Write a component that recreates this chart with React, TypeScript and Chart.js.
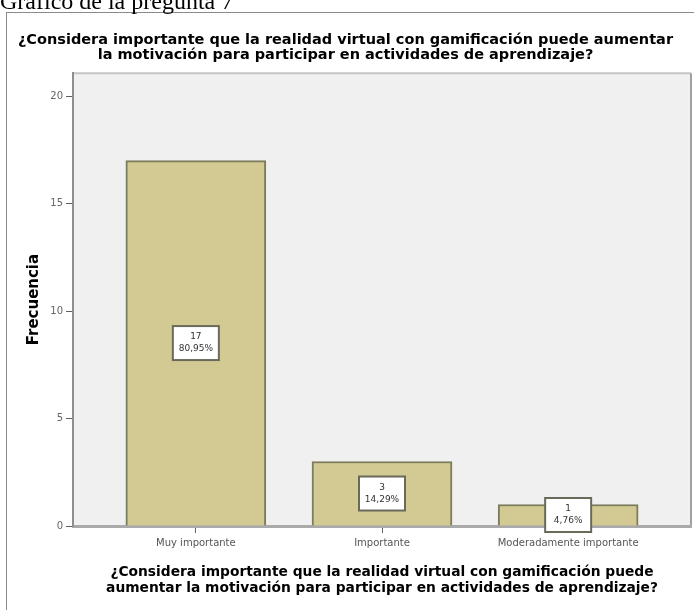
import React, { useEffect, useRef } from "react";
import { Chart, registerables } from "chart.js";

Chart.register(...registerables);

// Survey answers and their frequencies
const categories = ["Muy importante", "Importante", "Moderadamente importante"];
const counts = [17, 3, 1];
const yTickValues = [0, 5, 10, 15, 20];
const xTickValues = [0, 1, 2];

const heading = "Gráfico de la pregunta 7";
const chartTitle = [
  "¿Considera importante que la realidad virtual con gamificación puede aumentar",
  "la motivación para participar en actividades de aprendizaje?",
];
const xAxisTitle = [
  "¿Considera importante que la realidad virtual con gamificación puede",
  "aumentar la motivación para participar en actividades de aprendizaje?",
];
const yAxisTitle = "Frecuencia";

const total = counts.reduce((a, b) => a + b, 0);
const percentLabels = counts.map(
  (c) => (c / total * 100).toFixed(2).replace(".", ",") + "%"
);

// Light grey plot background with a thin frame on top and right
const plotBackground = {
  id: "plotBackground",
  beforeDraw(chart: any) {
    const { ctx, chartArea: a } = chart;
    ctx.save();
    ctx.fillStyle = "#f0f0f0";
    ctx.fillRect(a.left, a.top, a.right - a.left, a.bottom - a.top);
    ctx.strokeStyle = "#c4c4c4";
    ctx.lineWidth = 2;
    ctx.beginPath();
    ctx.moveTo(a.left, a.top);
    ctx.lineTo(a.right, a.top);
    ctx.stroke();
    ctx.strokeStyle = "#a0a0a0";
    ctx.beginPath();
    ctx.moveTo(a.right, a.top);
    ctx.lineTo(a.right, a.bottom);
    ctx.stroke();
    ctx.restore();
  },
};

// Count and percentage boxes in the middle of each bar
const barLabels = {
  id: "barLabels",
  afterDatasetsDraw(chart: any) {
    const { ctx } = chart;
    const meta = chart.getDatasetMeta(0);
    ctx.save();
    meta.data.forEach((bar: any, i: number) => {
      const cx = bar.x;
      const cy = (bar.y + bar.base) / 2;
      const w = 46;
      const h = 34;
      ctx.fillStyle = "#ffffff";
      ctx.fillRect(cx - w / 2, cy - h / 2, w, h);
      ctx.strokeStyle = "#6a6a5a";
      ctx.lineWidth = 2;
      ctx.strokeRect(cx - w / 2, cy - h / 2, w, h);
      ctx.fillStyle = "#333333";
      ctx.font = "9px 'DejaVu Sans'";
      ctx.textAlign = "center";
      ctx.textBaseline = "middle";
      ctx.fillText(String(counts[i]), cx, cy - 6);
      ctx.fillText(percentLabels[i], cx, cy + 6);
    });
    ctx.restore();
  },
};

export default function App() {
  const canvasRef = useRef<HTMLCanvasElement | null>(null);

  useEffect(() => {
    if (!canvasRef.current) return;
    const chart = new Chart(canvasRef.current, {
      type: "bar",
      data: {
        datasets: [
          {
            data: counts.map((c, i) => ({ x: xTickValues[i], y: c })),
            backgroundColor: "#d2ca92",
            borderColor: "#7c7b5c",
            borderWidth: 2,
            barThickness: 140,
          },
        ],
      },
      options: {
        animation: false,
        responsive: false,
        layout: { padding: { top: 0, right: 3, bottom: 0, left: 0 } },
        plugins: {
          legend: { display: false },
          tooltip: { enabled: false },
          title: {
            display: true,
            text: chartTitle,
            color: "#000000",
            font: { family: "'DejaVu Sans'", size: 14.5, weight: "bold", lineHeight: 1.04 },
            padding: { top: 33, bottom: 10 },
          },
        },
        scales: {
          x: {
            type: "linear",
            offset: false,
            min: -0.66,
            max: 2.66,
            afterBuildTicks: (scale: any) => {
              scale.ticks = xTickValues.map((v) => ({ value: v }));
            },
            afterFit: (scale: any) => {
              scale.height = 84;
            },
            ticks: {
              autoSkip: false,
              maxRotation: 0,
              padding: 4,
              color: "#555555",
              font: { family: "'DejaVu Sans'", size: 10 },
              callback: (v: any) => categories[v as number] ?? "",
            },
            grid: {
              offset: false,
              drawOnChartArea: false,
              drawTicks: true,
              tickLength: 7,
              color: "#606060",
            },
            border: { display: true, color: "#aaaaaa", width: 3 },
            title: {
              display: true,
              text: xAxisTitle,
              color: "#000000",
              font: { family: "'DejaVu Sans'", size: 13.8, weight: "bold", lineHeight: 1.12 },
              padding: { top: 4, bottom: 14 },
            },
          },
          y: {
            min: 0,
            max: 21.07,
            afterBuildTicks: (scale: any) => {
              scale.ticks = yTickValues.map((v) => ({ value: v }));
            },
            afterFit: (scale: any) => {
              scale.width = 73;
            },
            ticks: {
              padding: 3,
              color: "#666666",
              font: { family: "'DejaVu Sans'", size: 10 },
            },
            grid: {
              drawOnChartArea: false,
              drawTicks: true,
              tickLength: 7,
              color: "#606060",
            },
            border: { display: true, color: "#8e8e8e", width: 2 },
            title: {
              display: true,
              text: yAxisTitle,
              color: "#000000",
              font: { family: "'DejaVu Sans'", size: 15, weight: "bold", lineHeight: 1.15 },
              padding: { top: 25, bottom: 0 },
            },
          },
        },
      },
      plugins: [plotBackground, barLabels],
    } as any);
    return () => chart.destroy();
  }, []);

  return (
    <div style={{ position: "absolute", left: 0, top: 0, width: 694, height: 610, overflow: "hidden", background: "#ffffff" }}>
      <canvas ref={canvasRef} width={694} height={610} style={{ position: "absolute", left: 0, top: 0 }} />
      <div
        style={{
          position: "absolute",
          left: 6,
          top: 12,
          width: 694,
          height: 610,
          border: "1px solid #8a8a8a",
          pointerEvents: "none",
        }}
      />
      <div
        style={{
          position: "absolute",
          left: 0,
          top: -11,
          fontFamily: "'Liberation Serif', serif",
          fontSize: 24,
          lineHeight: "24px",
          whiteSpace: "nowrap",
          color: "#000000",
        }}
      >
        {heading}
      </div>
    </div>
  );
}
